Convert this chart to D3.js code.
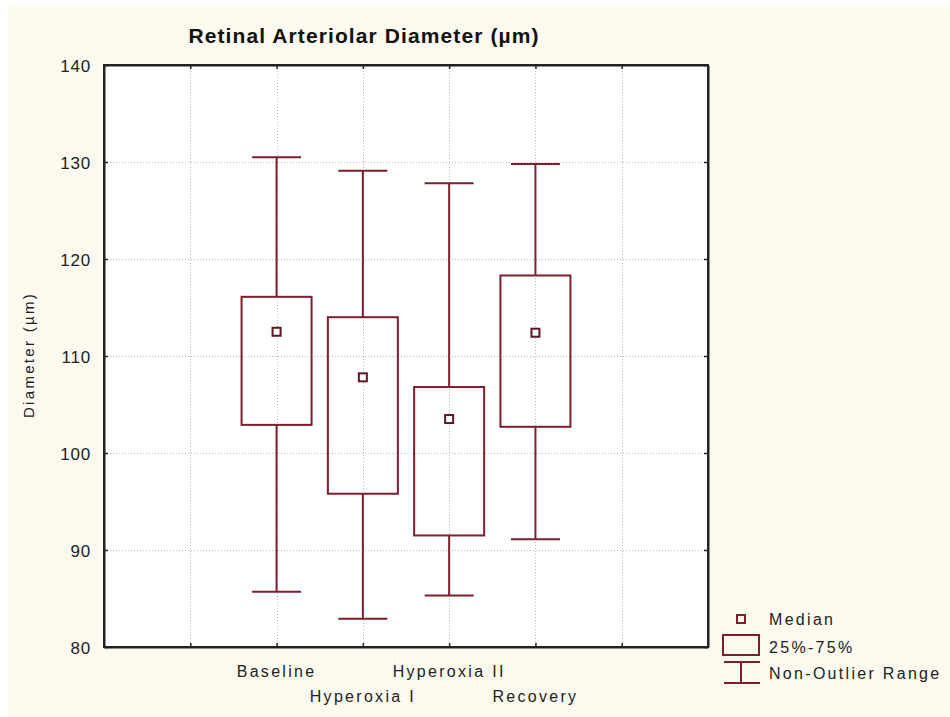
<!DOCTYPE html>
<html>
<head>
<meta charset="utf-8">
<script src="https://cdn.jsdelivr.net/npm/d3@7"></script>
<style>
  html, body { margin: 0; padding: 0; background: #ffffff; }
  svg { display: block; }
</style>
</head>
<body>
<svg id="chart" width="950" height="717"></svg>
<script>
// Retinal arteriolar diameter (µm) by condition
const categories = ["Baseline", "Hyperoxia I", "Hyperoxia II", "Recovery"];
const medians = [112.5, 107.8, 103.5, 112.4];
const q1 = [102.9, 95.8, 91.5, 102.7];
const q3 = [116.1, 114.0, 106.8, 118.3];
const lows = [85.7, 82.9, 85.3, 91.1];
const highs = [130.5, 129.1, 127.8, 129.8];
const yTicks = [80, 90, 100, 110, 120, 130, 140];
const xSlots = [1, 2, 3, 4, 5, 6];
const legendLabels = ["Median", "25%-75%", "Non-Outlier Range"];

const markColor = "#7d1f2c";
const medianColor = "#5e1820";
const font = "'Liberation Sans', Arial, sans-serif";

const svg = d3.select("#chart");

// panel background
svg.append("rect").attr("x", 8).attr("y", 5).attr("width", 942).attr("height", 712)
  .attr("fill", "#fcf9ef");

const plot = { left: 104, right: 708, top: 65, bottom: 647 };

const x = d3.scaleLinear().domain([0, 7]).range([plot.left, plot.right]);
const y = d3.scaleLinear().domain([80, 140]).range([plot.bottom, plot.top]);

svg.append("rect")
  .attr("x", plot.left).attr("y", plot.top)
  .attr("width", plot.right - plot.left).attr("height", plot.bottom - plot.top)
  .attr("fill", "#ffffff");

// dotted grid
const grid = svg.append("g").attr("stroke", "#b8b8b8").attr("stroke-width", 1)
  .attr("stroke-dasharray", "1,2");
grid.selectAll("line.v").data(xSlots).join("line").attr("class", "v")
  .attr("x1", d => Math.round(x(d)) + 0.5).attr("x2", d => Math.round(x(d)) + 0.5)
  .attr("y1", plot.top).attr("y2", plot.bottom);
grid.selectAll("line.h").data(yTicks.slice(1, -1)).join("line").attr("class", "h")
  .attr("y1", d => Math.round(y(d)) + 0.5).attr("y2", d => Math.round(y(d)) + 0.5)
  .attr("x1", plot.left).attr("x2", plot.right);

// axes with inward ticks on all four sides
function styleAxis(g) {
  g.selectAll("path").attr("stroke", "#222").attr("stroke-width", 2);
  g.selectAll(".tick line").attr("stroke", "#222").attr("stroke-width", 1.5);
}
const leftAxis = svg.append("g").attr("transform", `translate(${plot.left},0)`)
  .call(d3.axisLeft(y).tickValues(yTicks).tickSize(-4).tickSizeOuter(0).tickPadding(13)
    .tickFormat(d3.format("d")));
styleAxis(leftAxis);
leftAxis.selectAll(".tick text")
  .attr("font-family", font).attr("font-size", 17).attr("letter-spacing", 0.8)
  .attr("fill", "#222").attr("dy", "0.36em");

const rightAxis = svg.append("g").attr("transform", `translate(${plot.right},0)`)
  .call(d3.axisRight(y).tickValues(yTicks).tickSize(-4).tickSizeOuter(0).tickFormat(""));
styleAxis(rightAxis);

const topAxis = svg.append("g").attr("transform", `translate(0,${plot.top})`)
  .call(d3.axisTop(x).tickValues(xSlots).tickSize(-4).tickSizeOuter(0).tickFormat(""));
styleAxis(topAxis);

const bottomAxis = svg.append("g").attr("transform", `translate(0,${plot.bottom})`)
  .call(d3.axisBottom(x).tickValues(xSlots).tickSize(-4).tickSizeOuter(0).tickFormat(""));
styleAxis(bottomAxis);

// frame
svg.append("rect")
  .attr("x", plot.left).attr("y", plot.top)
  .attr("width", plot.right - plot.left).attr("height", plot.bottom - plot.top)
  .attr("fill", "none").attr("stroke", "#222").attr("stroke-width", 2);

// category labels, staggered on two rows
svg.append("g").selectAll("text").data(categories).join("text")
  .attr("x", (d, i) => x(i + 2))
  .attr("y", (d, i) => i % 2 === 0 ? 677 : 702)
  .attr("text-anchor", "middle")
  .attr("font-family", font).attr("font-size", 16).attr("letter-spacing", 2.3)
  .attr("fill", "#222")
  .text(d => d);

// box plots
const boxW = 70, capW = 49, med = 8;
const boxes = svg.append("g").selectAll("g").data(categories).join("g");
boxes.append("line")
  .attr("x1", (d, i) => x(i + 2)).attr("x2", (d, i) => x(i + 2))
  .attr("y1", (d, i) => y(highs[i])).attr("y2", (d, i) => y(q3[i]))
  .attr("stroke", markColor).attr("stroke-width", 2);
boxes.append("line")
  .attr("x1", (d, i) => x(i + 2)).attr("x2", (d, i) => x(i + 2))
  .attr("y1", (d, i) => y(q1[i])).attr("y2", (d, i) => y(lows[i]))
  .attr("stroke", markColor).attr("stroke-width", 2);
boxes.append("line")
  .attr("x1", (d, i) => x(i + 2) - capW / 2).attr("x2", (d, i) => x(i + 2) + capW / 2)
  .attr("y1", (d, i) => y(highs[i])).attr("y2", (d, i) => y(highs[i]))
  .attr("stroke", markColor).attr("stroke-width", 2);
boxes.append("line")
  .attr("x1", (d, i) => x(i + 2) - capW / 2).attr("x2", (d, i) => x(i + 2) + capW / 2)
  .attr("y1", (d, i) => y(lows[i])).attr("y2", (d, i) => y(lows[i]))
  .attr("stroke", markColor).attr("stroke-width", 2);
boxes.append("rect")
  .attr("x", (d, i) => x(i + 2) - boxW / 2).attr("width", boxW)
  .attr("y", (d, i) => y(q3[i])).attr("height", (d, i) => y(q1[i]) - y(q3[i]))
  .attr("fill", "none").attr("stroke", markColor).attr("stroke-width", 2);
boxes.append("rect")
  .attr("x", (d, i) => x(i + 2) - med / 2).attr("width", med)
  .attr("y", (d, i) => y(medians[i]) - med / 2).attr("height", med)
  .attr("fill", "#fff").attr("stroke", medianColor).attr("stroke-width", 2);

// title
svg.append("text")
  .attr("x", 364).attr("y", 43)
  .attr("text-anchor", "middle")
  .attr("font-family", font).attr("font-size", 21).attr("font-weight", "bold")
  .attr("letter-spacing", 1.1).attr("fill", "#111")
  .text("Retinal Arteriolar Diameter (µm)");

// y-axis title
svg.append("text")
  .attr("transform", "translate(34,355) rotate(-90)")
  .attr("text-anchor", "middle")
  .attr("font-family", font).attr("font-size", 15).attr("letter-spacing", 2.3)
  .attr("fill", "#222")
  .text("Diameter (µm)");

// legend
const lg = svg.append("g");
const lx = 741;
lg.append("rect").attr("x", lx - 4).attr("y", 615).attr("width", 8).attr("height", 8)
  .attr("fill", "none").attr("stroke", markColor).attr("stroke-width", 2);
lg.append("rect").attr("x", 723).attr("y", 635).attr("width", 36).attr("height", 20)
  .attr("fill", "none").attr("stroke", markColor).attr("stroke-width", 2);
lg.append("line").attr("x1", 724).attr("x2", 760).attr("y1", 662).attr("y2", 662)
  .attr("stroke", markColor).attr("stroke-width", 2);
lg.append("line").attr("x1", 724).attr("x2", 760).attr("y1", 683).attr("y2", 683)
  .attr("stroke", markColor).attr("stroke-width", 2);
lg.append("line").attr("x1", lx).attr("x2", lx).attr("y1", 662).attr("y2", 683)
  .attr("stroke", markColor).attr("stroke-width", 2);
lg.selectAll("text").data(legendLabels).join("text")
  .attr("x", 769).attr("y", (d, i) => [625, 653, 679][i])
  .attr("font-family", font).attr("font-size", 16).attr("letter-spacing", 2.3)
  .attr("fill", "#222")
  .text(d => d);
</script>
</body>
</html>
